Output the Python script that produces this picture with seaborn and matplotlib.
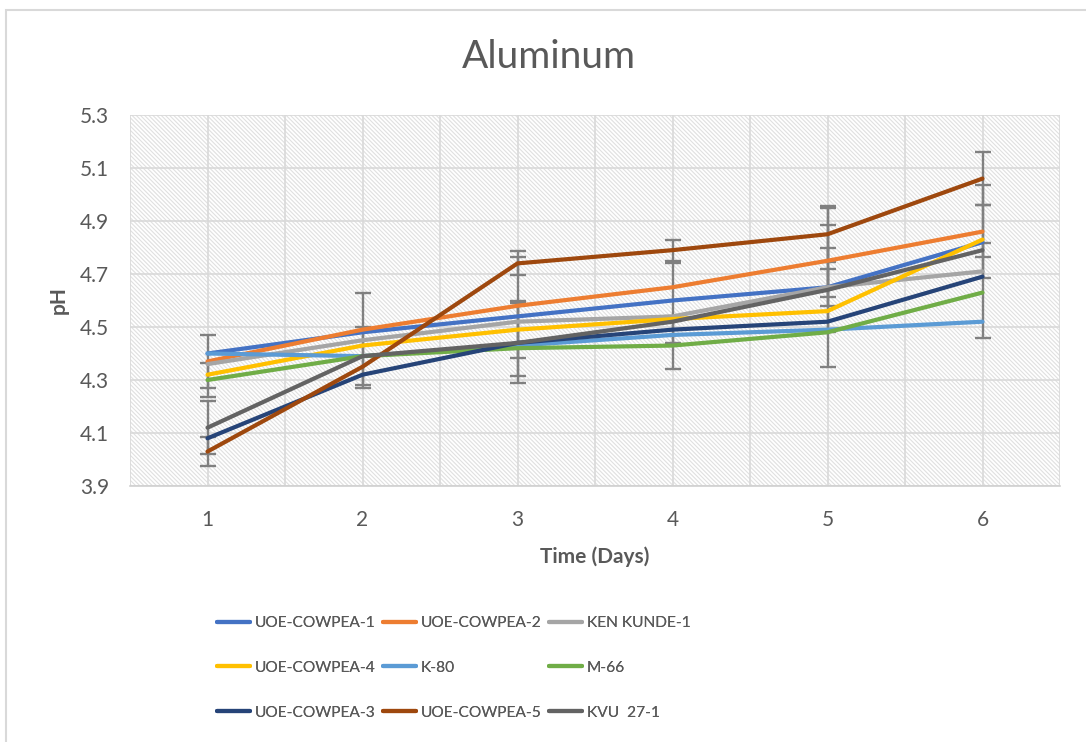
import matplotlib
matplotlib.use("Agg")
import matplotlib.pyplot as plt
import matplotlib.patches as mpatches
import numpy as np
import pandas as pd
import seaborn as sns

days = [1, 2, 3, 4, 5, 6]

uoe_cowpea_1 = [4.40, 4.48, 4.54, 4.60, 4.65, 4.82]
uoe_cowpea_2 = [4.37, 4.49, 4.58, 4.65, 4.75, 4.86]
ken_kunde_1 = [4.36, 4.45, 4.52, 4.54, 4.65, 4.71]
uoe_cowpea_4 = [4.32, 4.43, 4.49, 4.53, 4.56, 4.83]
k_80 = [4.40, 4.39, 4.43, 4.47, 4.49, 4.52]
m_66 = [4.30, 4.39, 4.42, 4.43, 4.48, 4.63]
uoe_cowpea_3 = [4.08, 4.32, 4.44, 4.49, 4.52, 4.69]
uoe_cowpea_5 = [4.03, 4.35, 4.74, 4.79, 4.85, 5.06]
kvu_27_1 = [4.12, 4.39, 4.44, 4.52, 4.64, 4.79]

# error bar half-widths (0 = no bar shown)
err_uoe_cowpea_1 = [0, 0, 0.225, 0, 0.07, 0]
err_uoe_cowpea_2 = [0.10, 0, 0, 0, 0.135, 0.175]
err_ken_kunde_1 = [0, 0.18, 0, 0.20, 0.30, 0.25]
err_uoe_cowpea_4 = [0, 0, 0.107, 0, 0, 0]
err_k_80 = [0, 0, 0, 0, 0, 0]
err_m_66 = [0.063, 0.11, 0, 0, 0, 0]
err_uoe_cowpea_3 = [0, 0, 0, 0.05, 0, 0]
err_uoe_cowpea_5 = [0.054, 0, 0.045, 0.04, 0.105, 0.10]
err_kvu_27_1 = [0.10, 0, 0.15, 0, 0.16, 0.027]

names = ["UOE-COWPEA-1", "UOE-COWPEA-2", "KEN KUNDE-1", "UOE-COWPEA-4", "K-80",
         "M-66", "UOE-COWPEA-3", "UOE-COWPEA-5", "KVU  27-1"]
values = [uoe_cowpea_1, uoe_cowpea_2, ken_kunde_1, uoe_cowpea_4, k_80,
          m_66, uoe_cowpea_3, uoe_cowpea_5, kvu_27_1]
errors = [err_uoe_cowpea_1, err_uoe_cowpea_2, err_ken_kunde_1, err_uoe_cowpea_4, err_k_80,
          err_m_66, err_uoe_cowpea_3, err_uoe_cowpea_5, err_kvu_27_1]
colors = ["#4472C4", "#ED7D31", "#A5A5A5", "#FFC000", "#5B9BD5",
          "#70AD47", "#264478", "#9E480E", "#636363"]

sns.set_theme(style="white")
plt.rcParams["font.family"] = ["Lato", "DejaVu Sans"]
plt.rcParams["hatch.linewidth"] = 0.8
text_color = "#595959"

rows = []
for name, vals, errs in zip(names, values, errors):
    for d, v, e in zip(days, vals, errs):
        rows.append({"day": d, "pH": v, "err": e, "series": name})
df = pd.DataFrame(rows)

fig = plt.figure(figsize=(10.86, 7.42), dpi=100)
ax = fig.add_axes([130 / 1086, 1 - 486 / 742, 930 / 1086, 371 / 742])
ax.set_axisbelow(True)

# hatched plot-area background
ax.add_patch(mpatches.Rectangle((0, 0), 1, 1, transform=ax.transAxes, facecolor="white",
                                edgecolor="#e0e0e0", linewidth=0, hatch="\\" * 8, zorder=0))

for name, c in zip(names, colors):
    sub = df[(df["series"] == name) & (df["err"] > 0)]
    if len(sub):
        ax.errorbar(sub["day"], sub["pH"], yerr=sub["err"], fmt="none", ecolor="#808080",
                    elinewidth=1.7, capsize=6, capthick=1.7, zorder=1.5)

sns.lineplot(data=df, x="day", y="pH", hue="series", hue_order=names,
             palette=dict(zip(names, colors)), linewidth=3, ax=ax, zorder=2,
             legend=False, estimator=None, sort=False)

ax.set_xlim(0.5, 6.5)
ax.set_ylim(3.9, 5.3)
ax.set_xticks(days)
ax.set_xticks(np.arange(0.5, 7, 1), minor=True)
ax.set_yticks(np.arange(3.9, 5.31, 0.2))
ax.set_yticklabels([f"{t:.1f}" for t in np.arange(3.9, 5.31, 0.2)])
ax.grid(True, which="both", color="#d9d9d9", linewidth=1.2)
for s in ["left", "right", "top"]:
    ax.spines[s].set_visible(False)
ax.spines["bottom"].set_color("#d0d0d0")
ax.spines["bottom"].set_linewidth(1.2)
ax.tick_params(which="both", length=0, labelsize=15, labelcolor=text_color)
ax.tick_params(axis="x", pad=17)
ax.tick_params(axis="y", pad=15)

ax.set_xlabel("Time (Days)", fontsize=15, fontweight="bold", color=text_color, labelpad=12)
ax.set_ylabel("pH", fontsize=15, fontweight="bold", color=text_color, labelpad=8)

fig.text(0.505, 1 - 57 / 742, "Aluminum", ha="center", va="center", fontsize=28,
         color=text_color)

# legend: three columns at fixed positions, read row-wise like the original
handles = [plt.Line2D([], [], color=c, linewidth=3) for c in colors]
col_x = [217, 383, 549]
for col in range(3):
    idx = [col, col + 3, col + 6]
    leg = fig.legend([handles[i] for i in idx], [names[i] for i in idx], frameon=False,
                     loc="upper left", bbox_to_anchor=(col_x[col] / 1086, 1 - 616 / 742),
                     borderpad=0, borderaxespad=0, fontsize=11.2, handlelength=2.15,
                     handletextpad=0.3, labelspacing=1.98, labelcolor=text_color)
    fig.add_artist(leg)

fig.add_artist(mpatches.Rectangle((6 / 1086, -0.01), 1.1, 1 - 10 / 742 + 0.01,
                                  transform=fig.transFigure, facecolor="none",
                                  edgecolor="#d9d9d9", linewidth=1.5))

fig.savefig("out.png", dpi=100)
